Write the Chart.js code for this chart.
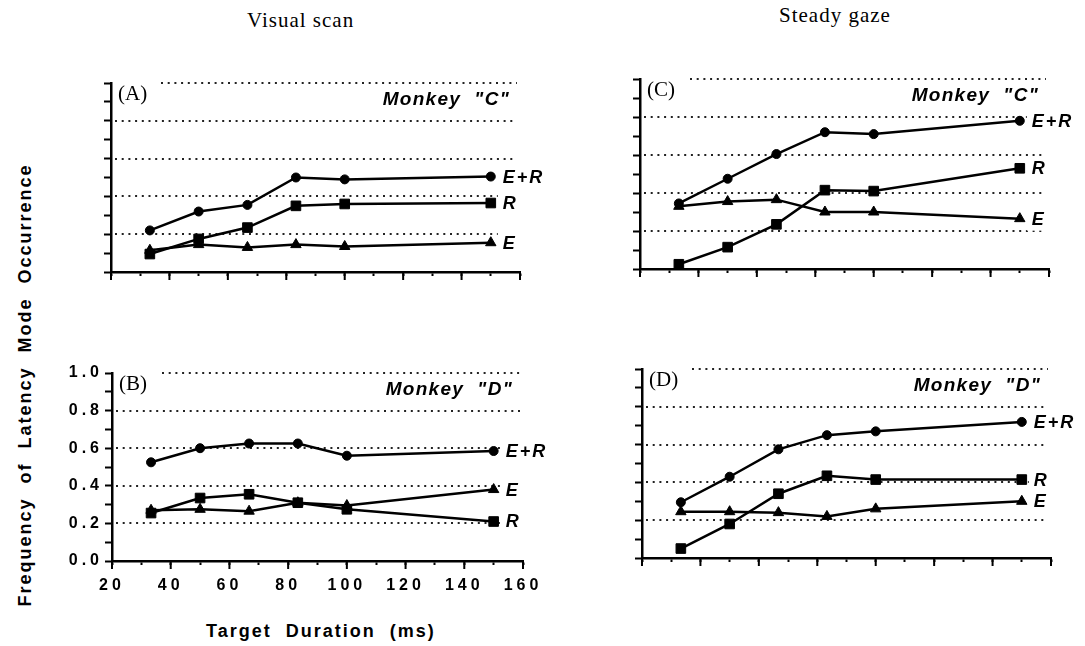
<!DOCTYPE html>
<html>
<head>
<meta charset="utf-8">
<script src="https://cdn.jsdelivr.net/npm/chart.js@4"></script>
<style>
body { margin: 0; background: #fff; width: 1085px; height: 646px; position: relative; overflow: hidden; }
canvas { position: absolute; }
.t { position: absolute; white-space: nowrap; color: #000; }
.serif { font-family: "Liberation Serif", "DejaVu Serif", serif; font-size: 21px; line-height: 21px; letter-spacing: 1px; }
.sans { font-family: "Liberation Sans", Arial, sans-serif; font-weight: bold; font-size: 18px; line-height: 18px; letter-spacing: 2px; }
</style>
</head>
<body>
<div class="t serif" style="left:247px; top:10px;">Visual scan</div>
<div class="t serif" style="left:779px; top:5px;">Steady gaze</div>
<div class="t sans" style="left:206px; top:622px;">Target&nbsp; Duration&nbsp; (ms)</div>
<div class="t sans" style="left:25px; top:385px; transform: translate(-50%, -50%) rotate(-90deg);">Frequency&nbsp; of&nbsp; Latency&nbsp; Mode&nbsp; Occurrence</div>

<canvas id="pA" width="520" height="260" style="left:40px; top:50px;"></canvas>
<canvas id="pB" width="520" height="280" style="left:40px; top:340px;"></canvas>
<canvas id="pC" width="505" height="260" style="left:580px; top:50px;"></canvas>
<canvas id="pD" width="505" height="260" style="left:580px; top:340px;"></canvas>

<script>
// target durations (ms)
const durations = [33.3, 50, 66.7, 83.3, 100, 150];

// (A) visual scan, monkey C
const scanC_ER = [0.22, 0.32, 0.355, 0.50, 0.49, 0.505];
const scanC_R  = [0.095, 0.175, 0.235, 0.35, 0.36, 0.365];
const scanC_E  = [0.115, 0.145, 0.13, 0.145, 0.135, 0.155];

// (B) visual scan, monkey D
const scanD_ER = [0.525, 0.60, 0.625, 0.625, 0.56, 0.585];
const scanD_R  = [0.255, 0.335, 0.355, 0.31, 0.275, 0.21];
const scanD_E  = [0.27, 0.275, 0.265, 0.31, 0.295, 0.38];

// (C) steady gaze, monkey C
const gazeC_ER = [0.345, 0.475, 0.605, 0.72, 0.71, 0.78];
const gazeC_R  = [0.025, 0.115, 0.235, 0.415, 0.41, 0.53];
const gazeC_E  = [0.33, 0.355, 0.365, 0.30, 0.30, 0.265];

// (D) steady gaze, monkey D
const gazeD_ER = [0.295, 0.43, 0.575, 0.65, 0.67, 0.72];
const gazeD_R  = [0.05, 0.18, 0.34, 0.435, 0.415, 0.415];
const gazeD_E  = [0.245, 0.245, 0.24, 0.22, 0.26, 0.30];

const seriesNames = ['E+R', 'R', 'E'];
const seriesMarks = ['circle', 'rect', 'triangle'];
const seriesSizes = [4.5, 6.8, 6];

const xTickLabels = ['20', '40', '60', '80', '100', '120', '140', '160'];
const yTickLabels = ['0.0', '0.2', '0.4', '0.6', '0.8', '1.0'];
const gridValues = [0.2, 0.4, 0.6, 0.8, 1.0];

const panels = [
  { id: 'pA', left: 40, top: 50, w: 520, h: 260, area: { l: 111, t: 83, r: 520, b: 272 },
    tag: '(A)', monkey: 'Monkey  "C"', labels: false, data: [scanC_ER, scanC_R, scanC_E] },
  { id: 'pB', left: 40, top: 340, w: 520, h: 280, area: { l: 112, t: 373, r: 523, b: 561 },
    tag: '(B)', monkey: 'Monkey  "D"', labels: true, data: [scanD_ER, scanD_R, scanD_E] },
  { id: 'pC', left: 580, top: 50, w: 505, h: 260, area: { l: 640, t: 79, r: 1049, b: 269 },
    tag: '(C)', monkey: 'Monkey  "C"', labels: false, data: [gazeC_ER, gazeC_R, gazeC_E] },
  { id: 'pD', left: 580, top: 340, w: 505, h: 260, area: { l: 642, t: 369, r: 1051, b: 558 },
    tag: '(D)', monkey: 'Monkey  "D"', labels: false, data: [gazeD_ER, gazeD_R, gazeD_E] }
];

const decor = {
  id: 'decor',
  beforeDraw(chart) {
    chart.ctx.letterSpacing = '4px';
  },
  beforeDatasetsDraw(chart) {
    const ctx = chart.ctx, a = chart.chartArea, y = chart.scales.y;
    ctx.save();
    ctx.setLineDash([2, 4.7]);
    ctx.lineWidth = 2;
    ctx.strokeStyle = '#222';
    gridValues.forEach(v => {
      const py = Math.round(y.getPixelForValue(v));
      ctx.beginPath();
      ctx.moveTo(v === 1 ? a.left + 50 : a.left + 4, py);
      ctx.lineTo(a.right - 3, py);
      ctx.stroke();
    });
    ctx.restore();
  },
  afterDatasetsDraw(chart, args, opts) {
    const ctx = chart.ctx, a = chart.chartArea;
    ctx.save();
    // series names at the end of each line
    ctx.font = 'italic bold 18px "Liberation Sans", Arial, sans-serif';
    ctx.letterSpacing = '2px';
    ctx.textBaseline = 'middle';
    ctx.textAlign = 'left';
    chart.data.datasets.forEach((ds, i) => {
      const meta = chart.getDatasetMeta(i);
      const pt = meta.data[meta.data.length - 1];
      const w = ctx.measureText(ds.label).width;
      ctx.fillStyle = '#fff';
      ctx.fillRect(pt.x + 7, pt.y - 12, w + 8, 24);
      ctx.fillStyle = '#000';
      ctx.fillText(ds.label, pt.x + 12, pt.y + 1);
    });
    // monkey name
    ctx.font = 'italic bold 19px "Liberation Sans", Arial, sans-serif';
    ctx.letterSpacing = '1.3px';
    ctx.textBaseline = 'alphabetic';
    ctx.textAlign = 'right';
    ctx.fillText(opts.monkey, a.right - 10, a.top + 22);
    // panel tag
    ctx.font = '21px "Liberation Serif", "DejaVu Serif", serif';
    ctx.letterSpacing = '0px';
    ctx.textAlign = 'left';
    ctx.fillText(opts.tag, a.left + 7, a.top + 17);
    ctx.restore();
  },
  afterDraw(chart) {
    const ctx = chart.ctx, a = chart.chartArea, x = chart.scales.x;
    ctx.save();
    ctx.lineWidth = 2;
    ctx.strokeStyle = '#000';
    xTickLabels.forEach(s => {
      const px = x.getPixelForValue(Number(s));
      ctx.beginPath();
      ctx.moveTo(px, a.bottom);
      ctx.lineTo(px, a.bottom + 8);
      ctx.stroke();
    });
    ctx.restore();
    ctx.letterSpacing = '0px';
  }
};

panels.forEach(p => {
  const datasets = p.data.map((vals, i) => ({
    label: seriesNames[i],
    data: durations.map((d, j) => ({ x: d, y: vals[j] })),
    borderColor: '#000',
    backgroundColor: '#000',
    borderWidth: 2.5,
    tension: 0,
    pointStyle: seriesMarks[i],
    pointRadius: seriesSizes[i],
    pointBackgroundColor: '#000',
    pointBorderColor: '#000',
    pointBorderWidth: 1
  }));

  new Chart(document.getElementById(p.id), {
    type: 'line',
    data: { datasets: datasets },
    options: {
      responsive: false,
      animation: false,
      devicePixelRatio: 1,
      events: [],
      layout: {
        padding: { left: 0, bottom: 0, top: p.area.t - p.top, right: p.left + p.w - p.area.r }
      },
      plugins: {
        legend: { display: false },
        tooltip: { enabled: false },
        decor: { tag: p.tag, monkey: p.monkey }
      },
      scales: {
        x: {
          type: 'linear',
          min: 20,
          max: 160,
          border: { color: '#000', width: 2.5 },
          grid: { drawOnChartArea: false, drawTicks: true, tickLength: 4, tickColor: '#000', tickWidth: 2 },
          ticks: {
            stepSize: 10,
            autoSkip: false,
            maxRotation: 0,
            padding: 11,
            color: '#000',
            font: { family: '"Liberation Sans", Arial, sans-serif', size: 16, weight: 'bold' },
            callback: v => (p.labels && xTickLabels.includes(String(v))) ? String(v) : ''
          },
          afterFit(s) {
            s.height = p.top + p.h - p.area.b;
            s.paddingLeft = 0;
            s.paddingRight = 0;
          }
        },
        y: {
          min: 0,
          max: 1,
          border: { color: '#000', width: 2.5 },
          grid: { drawOnChartArea: false, drawTicks: true, tickLength: 7, tickColor: '#000', tickWidth: 2 },
          ticks: {
            stepSize: 0.1,
            autoSkip: false,
            padding: 2,
            color: '#000',
            font: { family: '"Liberation Sans", Arial, sans-serif', size: 16, weight: 'bold' },
            callback: v => {
              const s = v.toFixed(1);
              return (p.labels && yTickLabels.includes(s)) ? s : '';
            }
          },
          afterFit(s) {
            s.width = p.area.l - p.left;
            s.paddingTop = 0;
            s.paddingBottom = 0;
          }
        }
      }
    },
    plugins: [decor]
  });
});
</script>
</body>
</html>
